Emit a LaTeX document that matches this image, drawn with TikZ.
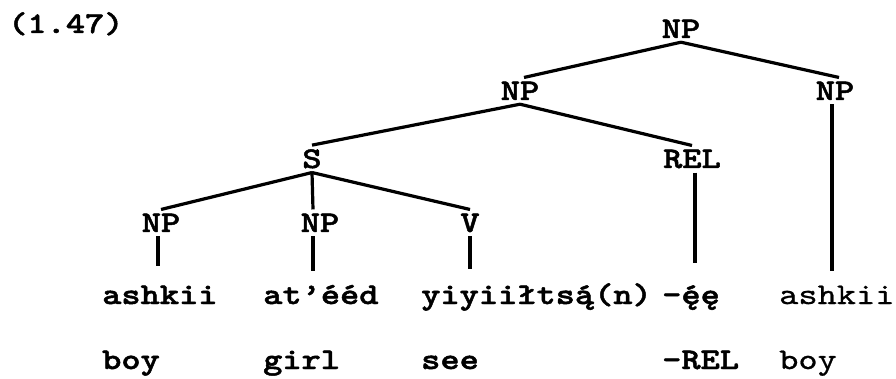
\documentclass[tikz,border=0pt]{standalone}
\usepackage{fontspec}
\newfontfamily\courb{lmmonolt10-bold.otf}[FakeStretch=1.22,FakeBold=1.6]
\newfontfamily\courr{lmmono10-regular.otf}[FakeStretch=1.22,FakeBold=0.8]
\newcommand\acc[1]{\rlap{#1}´}
\begin{document}
\begin{tikzpicture}[x=1pt,y=-1pt,
  lab/.style={font=\fontsize{30}{36}\selectfont\courb, inner sep=4pt, anchor=base},
  wrd/.style={font=\fontsize{30}{36}\selectfont\courb, inner sep=4pt, anchor=base west},
  wrdl/.style={wrd, font=\fontsize{30}{36}\selectfont\courr},
  br/.style={line width=3.2pt}]
\useasboundingbox (0,0) rectangle (896,379);
\node[wrd] (title) at (4,33) {(1.47)};
\node[lab] (np0) at (681,38) {NP};
\node[lab] (np1) at (520,100) {NP};
\node[lab] (np2) at (835,100) {NP};
\node[lab] (s) at (312,168) {S};
\node[lab] (rel) at (692,168) {REL};
\node[lab] (np3) at (161,232) {NP};
\node[lab] (np4) at (320,232) {NP};
\node[lab] (v) at (470,232) {V};
\node[wrd] (w1) at (98,304) {ashkii};
\node[wrd] (w2) at (259,304) {at’ééd};
\node[wrd] (w3) at (417,304) {yiyiiłts\acc{ą}(n)};
\node[wrd] (w4) at (658,304) {-\acc{ę}ę};
\node[wrdl] (w5) at (775,304) {ashkii};
\node[wrd] (g1) at (98,369) {boy};
\node[wrd] (g2) at (259,369) {girl};
\node[wrd] (g3) at (417,369) {see};
\node[wrd] (g4) at (658,369) {-REL};
\node[wrdl] (g5) at (775,369) {boy};
\draw[br] (np0.south) -- ([xshift=4pt]np1.north);
\draw[br] (np0.south) -- ([xshift=4pt]np2.north);
\draw[br] (np1.south) -- (s.north);
\draw[br] (np1.south) -- (rel.north);
\draw[br, shorten >=10pt] ([xshift=-3pt]np2.south) -- ([xshift=-3pt]np2.south |- w5.north);
\draw[br] (s.south) -- (np3.north);
\draw[br] (s.south) -- ([xshift=-7pt]np4.north);
\draw[br] (s.south) -- (v.north);
\draw[br, shorten >=18pt] ([xshift=3pt]rel.south) -- ([xshift=3pt]rel.south |- w4.north);
\draw[br, shorten >=15pt] ([xshift=-3pt]np3.south) -- ([xshift=-3pt]np3.south |- w1.north);
\draw[br, shorten >=10pt] ([xshift=-7pt]np4.south) -- ([xshift=-7pt]np4.south |- w2.north);
\draw[br, shorten >=10pt] (v.south) -- (v.south |- w3.north);
\end{tikzpicture}
\end{document}
